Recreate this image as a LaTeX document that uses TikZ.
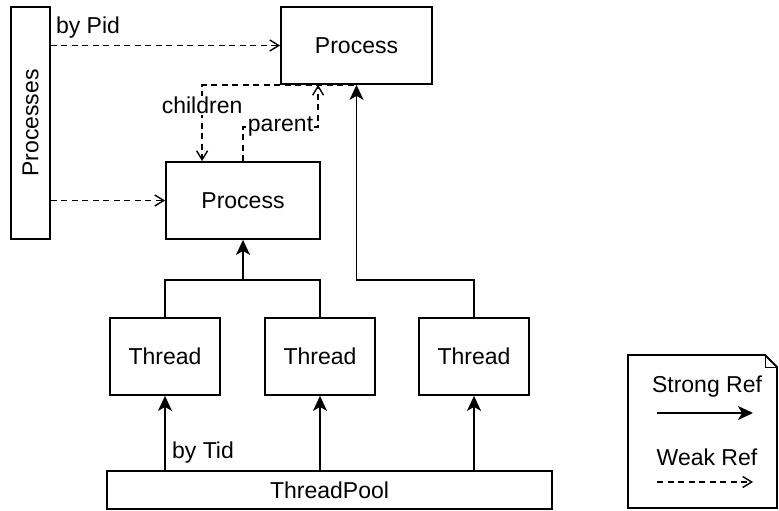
\documentclass[tikz,border=0pt]{standalone}
\usepackage{fontspec}
\setmainfont{Liberation Sans}
\usetikzlibrary{arrows.meta,calc}
\newcommand{\lw}{1.8pt}
\newcommand{\jy}{280}

\tikzset{
  box/.style={draw, line width=\lw, fill=white, inner sep=0pt, align=center},
  strong/.style={line width=\lw, -{Stealth[length=15pt,width=14pt,inset=4pt]}},
  weak/.style={line width=1.4pt, dash pattern=on 6pt off 4.5pt, -{Straight Barb[length=9pt,width=11pt]}},
  lbl/.style={fill=white, inner sep=1pt}
}

\begin{document}
\begin{tikzpicture}[x=1pt, y=-1pt, font=\fontsize{23}{27}\selectfont]
\useasboundingbox (0,0) rectangle (779,511);

\node[box, minimum width=232pt, minimum height=39pt, rotate=90] (plist) at (30.5,123) {Processes};
\node[box, minimum width=151pt, minimum height=77pt] (p1) at (356.5,45.5) {Process};
\node[box, minimum width=154pt, minimum height=77pt] (p2) at (243,200.5) {Process};
\foreach \n/\x in {1/165,2/320,3/474}{
\node[box, minimum width=110pt, minimum height=77pt] (t\n) at (\x,356.5) {Thread};
}
\node[box, minimum width=445pt, minimum height=38pt] (pool) at (329.5,490) {ThreadPool};

% processes table
\draw[weak] (plist.south |- p1.west) -- (p1.west);
\draw[weak] (plist.south |- p2.west) -- (p2.west);
\node (bypid) at (88,28) {by Pid};

% parent / children
\draw[weak] ($(p1.south)+(-3,0)$) -| ($(p2.north west)+(37,0)$) node[lbl, pos=0.635] {children};
\draw[weak] (p2.north) |- node[lbl, pos=0.75] {parent} ($(p1.south west)+(38,42)$) -- ($(p1.south west)+(38,0)$);

% threads
\coordinate (jn) at (0,\jy);
\draw[strong] (t3.north) |- (jn -| p1.south) -- (p1.south);
\draw[strong] (t1.north) |- (jn -| p2.south) -- (p2.south);
\draw[line width=\lw] (t2.north) |- (jn -| p2.south);
\foreach \n in {1,2,3}{
\draw[strong] (pool.north -| t\n.south) -- (t\n.south);
}
\node (bytid) at (203,453) {by Tid};

% legend
\draw[line width=\lw] (628,355) -- (765,355) -- (777,367) -- (777,508) -- (628,508) -- cycle;
\draw[line width=1pt] (765,355) -- (765,367) -- (777,367);
\node (strongref) at (707,387) {Strong Ref};
\node (weakref) at (707,457) {Weak Ref};
\coordinate (sa) at (657,413);
\coordinate (sb) at (753,413);
\coordinate (wa) at (657,482);
\coordinate (wb) at (753,482);
\draw[strong] (sa) -- (sb);
\draw[weak] (wa) -- (wb);
\end{tikzpicture}
\end{document}
